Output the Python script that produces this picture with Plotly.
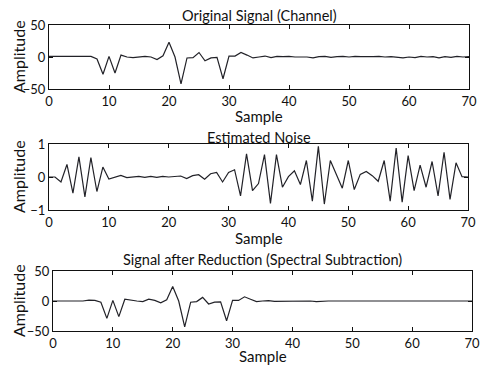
import plotly.graph_objects as go

samples = list(range(0, 71))

original_signal = [1, 1, 1, 1, 0, 1, 1, 1, -3, -27, 1, -25, 3, 0, -1, 0, 1, 0, -4, 2,
                   23, 0, -42, -1.5, -1, 7, -6, -1.5, -0.5, -34, 1.5, 1.5, 7, 3, -1.5, 0, 1.5, -1, 1,
                   0.5, 1, 0, 0.5, 0, -1.5, 0.5, 1, -0.5, 0.5, 1, 0, 1, 0.5, 0, 0.5, 1, 0, 0.5,
                   -0.5, -1.5, 0, -1, 1, 0, 0.5, -1.5, 0.5, -0.5, 1, 0, 0.5]

estimated_noise = [0, 0, -0.15, 0.38, -0.49, 0.61, -0.6, 0.59, -0.44, 0.3, -0.06, 0.0, 0.05, -0.02,
                   0.01, 0.02, -0.01, 0.02, -0.01, 0.02, 0.0, 0.02, 0.03, -0.05, 0.04, 0.07, -0.07,
                   0.1, 0.14, -0.15, 0.14, 0.22, -0.57, 0.7, -0.41, -0.2, 0.68, -0.8, 0.68, -0.31,
                   0.01, 0.19, -0.23, 0.5, -0.73, 0.93, -0.82, 0.5, 0.08, -0.34, 0.5, -0.38, 0.08,
                   0.17, 0.04, -0.13, 0.5, -0.73, 0.88, -0.76, 0.65, -0.41, 0.36, -0.31, 0.47, -0.57,
                   0.75, -0.68, 0.43, 0.01, 0.0]

reduced_signal = [0, 0, 0, 0, 0, 0, 1.5, 1, -2, -29, 1, -26, 3, 1, 0, -1, 3, 1, -3, 2,
                  24, 0, -43, -2, -1, 6, -5, -2, -1.5, -33, 1, 1, 7, 3, -1, 0, 0.5, -0.5, -0.5,
                  0.5, 0.5, 0, -0.5, 0, -1, 0, 0, 0, 0, 0, 0, 0, 0, 0, 0, 0, 0, -1, -1, -0.5,
                  0, 0, 0, 0, -1, -1, 0, 0, 0, 0, 0]

titles = ["Original Signal (Channel)", "Estimated Noise", "Signal after Reduction (Spectral Subtraction)"]
x_label = "Sample"
y_label = "Amplitude"
x_ticks = [0, 10, 20, 30, 40, 50, 60, 70]
y_ticks_signal = [-50, 0, 50]
y_ticks_noise = [-1, 0, 1]

W, H = 480, 366
FONT = "Lato, 'Open Sans', sans-serif"
LINE = "#222228"
TXT = "#111"

panels = [
    dict(y=original_signal, xd=(49, 469), yd=(25, 89), yr=(-50, 50), yt=y_ticks_signal, ty=15, sy=116),
    dict(y=estimated_noise, xd=(49, 468), yd=(144, 210), yr=(-1, 1), yt=y_ticks_noise, ty=137, sy=238),
    dict(y=reduced_signal, xd=(53, 472), yd=(271, 331), yr=(-50, 50), yt=y_ticks_signal, ty=259, sy=356),
]

fig = go.Figure()
layout = dict(width=W, height=H, margin=dict(l=0, r=0, t=0, b=0, autoexpand=False), autosize=False,
              paper_bgcolor="white", plot_bgcolor="white", showlegend=False,
              font=dict(family=FONT, size=13, color=TXT))
annotations = []
for i, p in enumerate(panels):
    n = "" if i == 0 else str(i + 1)
    fig.add_trace(go.Scatter(x=samples, y=p["y"], mode="lines",
                             line=dict(color=LINE, width=1.2),
                             xaxis="x" + n, yaxis="y" + n, hoverinfo="skip", cliponaxis=False))
    common = dict(showline=True, linecolor=TXT, linewidth=1, mirror="allticks",
                  ticks="inside", ticklen=4, tickcolor=TXT, showgrid=False,
                  zeroline=False, automargin=False, ticklabeloverflow="allow",
                  tickfont=dict(size=13, family=FONT, color=TXT))
    layout["xaxis" + n] = dict(domain=[p["xd"][0] / W, p["xd"][1] / W], range=[0, 70],
                               tickvals=x_ticks, anchor="y" + n, **common)
    layout["yaxis" + n] = dict(domain=[1 - p["yd"][1] / H, 1 - p["yd"][0] / H], range=list(p["yr"]),
                               tickvals=p["yt"], anchor="x" + n, **common)
    xc = (p["xd"][0] + p["xd"][1]) / 2 / W
    annotations.append(dict(text=titles[i], x=xc, y=1 - p["ty"] / H, xref="paper", yref="paper",
                            xanchor="center", yanchor="middle", showarrow=False,
                            font=dict(size=14.5, family=FONT, color=TXT)))
    annotations.append(dict(text=x_label, x=xc, y=1 - p["sy"] / H, xref="paper", yref="paper",
                            xanchor="center", yanchor="middle", showarrow=False,
                            font=dict(size=15, family=FONT, color=TXT)))
    annotations.append(dict(text=y_label, x=18 / W, y=1 - (p["yd"][0] + p["yd"][1]) / 2 / H,
                            xref="paper", yref="paper", xanchor="center", yanchor="middle",
                            textangle=-90, showarrow=False,
                            font=dict(size=16, family=FONT, color=TXT)))
layout["annotations"] = annotations
fig.update_layout(**layout)
fig.write_html("out.html", config={"displayModeBar": False},
               post_script="document.body.style.margin='0';document.body.style.padding='0';")
